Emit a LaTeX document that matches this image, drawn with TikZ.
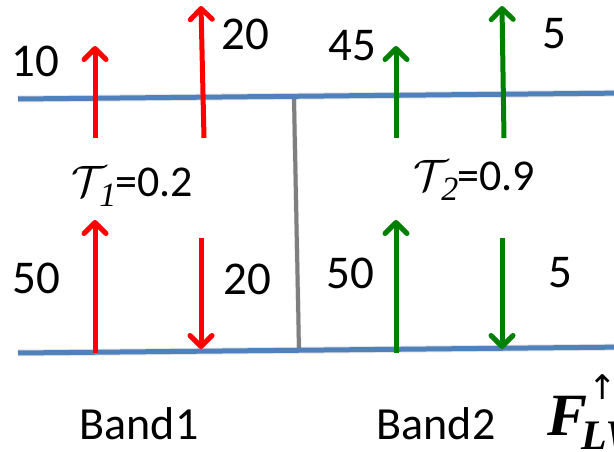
\RequirePackage{fix-cm}
\documentclass[tikz,border=0pt]{standalone}
\usepackage{fontspec}
\setmainfont{Carlito}
\newfontfamily\fluxfont{Liberation Serif}
\newfontfamily\arrowfont{DejaVu Sans}
\usetikzlibrary{arrows.meta}
\definecolor{bandblue}{HTML}{4F81BD}
\definecolor{fluxred}{HTML}{FF0000}
\definecolor{fluxgreen}{HTML}{008000}
\definecolor{divgray}{HTML}{7F7F7F}
% script T with a large italic index tucked under its arm
\newcommand{\transm}[1]{$\mathcal{T}$\kern-7pt\raisebox{-10pt}{\fontsize{34}{34}\selectfont\fluxfont\itshape #1}\kern-1pt}
\begin{document}
\begin{tikzpicture}[x=1pt,y=-1pt,
  level/.style={line width=5pt,bandblue},
  shadowline/.style={line width=7pt,black,opacity=0.10,shift={(1.5,3.5)}},
  divider/.style={line width=4pt,divgray},
  flux/.style={line width=5pt,-{Straight Barb[length=11pt,width=22pt,round]}},
  num/.style={font=\fontsize{47}{54}\selectfont,inner sep=0pt},
  band/.style={font=\fontsize{46}{52}\selectfont,inner sep=0pt},
  tau/.style={font=\fontsize{44}{50}\selectfont,inner sep=0pt,anchor=west}]
\useasboundingbox (0,0) rectangle (614,452);
\clip (0,0) rectangle (614,452);
\fill[white] (0,0) rectangle (614,452);

% ends of the two levels and of the divider
\coordinate (tl) at (18,99);   \coordinate (tr) at (630,93);
\coordinate (bl) at (18,353);  \coordinate (br) at (630,347);
\coordinate (dt) at (294,99);  \coordinate (db) at (299,350);

% ends of the flux arrows
\coordinate (a1s) at (95,138);  \coordinate (a1e) at (95,46);
\coordinate (a2s) at (204,138); \coordinate (a2e) at (201,6);
\coordinate (a3s) at (396,138); \coordinate (a3e) at (396,46);
\coordinate (a4s) at (504,138); \coordinate (a4e) at (502,6);
\coordinate (a5s) at (95,353);  \coordinate (a5e) at (95,220);
\coordinate (a6s) at (201,238); \coordinate (a6e) at (201,349);
\coordinate (a7s) at (396,353); \coordinate (a7e) at (396,220);
\coordinate (a8s) at (502,238); \coordinate (a8e) at (502,349);

% soft shadows
\draw[shadowline] (tl) -- (tr);
\draw[shadowline] (bl) -- (br);
\draw[shadowline,line width=5pt] (dt) -- (db);

% divider and levels
\draw[divider] (dt) -- (db);
\draw[level] (tl) -- (tr);
\draw[level] (bl) -- (br);

% fluxes
\draw[flux,fluxred] (a1s) -- (a1e);
\draw[flux,fluxred] (a2s) -- (a2e);
\draw[flux,fluxgreen] (a3s) -- (a3e);
\draw[flux,fluxgreen] (a4s) -- (a4e);
\draw[flux,fluxred] (a5s) -- (a5e);
\draw[flux,fluxred] (a6s) -- (a6e);
\draw[flux,fluxgreen] (a7s) -- (a7e);
\draw[flux,fluxgreen] (a8s) -- (a8e);

% flux values
\node[num] (n10) at (35,61) {10};
\node[num] (n20t) at (245,34) {20};
\node[num] (n45) at (352,46) {45};
\node[num] (n5t) at (554,34) {5};
\node[num] (n50l) at (36,278) {50};
\node[num] (n20b) at (247,279) {20};
\node[num] (n50r) at (350,273) {50};
\node[num] (n5b) at (560,273) {5};

% transmissivities
\node[tau] (t1) at (71,186) {\transm{1}=0.2};
\node[tau] (t2) at (413,180) {\transm{2}=0.9};

% band names
\node[band] (b1) at (139,424) {Band1};
\node[band] (b2) at (436,424) {Band2};

% upward longwave flux symbol
\node[inner sep=0pt,anchor=base west] (flw) at (547,435)
  {\fluxfont\bfseries\itshape\fontsize{60}{64}\selectfont F\kern-6pt%
   \rlap{\kern7pt\raisebox{36pt}{\arrowfont\mdseries\upshape\fontsize{34}{36}\selectfont ↑}}%
   \raisebox{-14pt}{\fontsize{42}{44}\selectfont LW}};
\end{tikzpicture}
\end{document}
